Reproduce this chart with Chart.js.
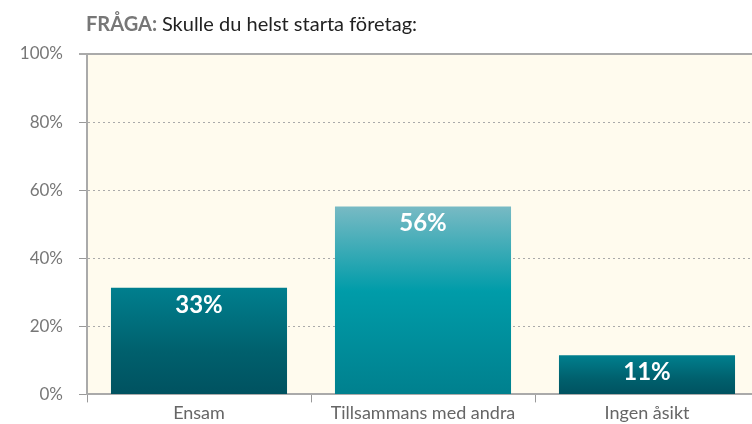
<!DOCTYPE html>
<html>
<head>
<meta charset="utf-8">
<script src="https://cdn.jsdelivr.net/npm/chart.js@4/dist/chart.umd.min.js"></script>
<style>
  body { margin: 0; overflow: hidden; background: #fff; }
  #wrap { width: 760px; height: 424px; }
</style>
</head>
<body>
<div id="wrap"><canvas id="svar" width="760" height="424"></canvas></div>
<script>
const categories = ['Ensam', 'Tillsammans med andra', 'Ingen åsikt'];
const values = [31.3, 55.2, 11.5];
const valueLabels = ['33%', '56%', '11%'];
const yTicks = [0, 20, 40, 60, 80, 100];

const FONT = 'Lato, "Open Sans", sans-serif';

// colour stops per bar (top -> bottom)
const barStops = [
  [[0, '#007f8e'], [0.6, '#00606d'], [1, '#005260']],
  [[0, '#78bac4'], [0.45, '#009ca9'], [1, '#00808e']],
  [[0, '#007f8e'], [0.6, '#00606d'], [1, '#005260']]
];

function barGradient(context) {
  const chart = context.chart;
  const area = chart.chartArea;
  if (!area) return barStops[context.dataIndex][0][1];
  const y = chart.scales.y;
  const top = y.getPixelForValue(values[context.dataIndex]);
  const g = chart.ctx.createLinearGradient(0, top, 0, y.getPixelForValue(0));
  barStops[context.dataIndex].forEach(s => g.addColorStop(s[0], s[1]));
  return g;
}

const decor = {
  id: 'decor',
  beforeDraw(chart) {
    const { ctx, chartArea: a } = chart;
    ctx.save();
    ctx.fillStyle = '#fffbee';
    ctx.fillRect(a.left, a.top, a.right - a.left, a.bottom - a.top);
    ctx.restore();
  },
  afterDatasetsDraw(chart) {
    const { ctx, chartArea: a } = chart;
    ctx.save();
    // top 100% line
    ctx.strokeStyle = '#aaa';
    ctx.lineWidth = 2;
    ctx.beginPath();
    ctx.moveTo(a.left - 8, a.top);
    ctx.lineTo(a.right, a.top);
    ctx.stroke();
    // value labels
    ctx.fillStyle = '#fff';
    ctx.font = 'bold 24px ' + FONT;
    ctx.textAlign = 'center';
    ctx.textBaseline = 'middle';
    chart.getDatasetMeta(0).data.forEach((el, i) => {
      ctx.fillText(valueLabels[i], el.x, el.y + 17);
    });
    // title
    ctx.textAlign = 'left';
    ctx.textBaseline = 'alphabetic';
    ctx.font = 'bold 20px ' + FONT;
    ctx.fillStyle = '#777';
    const lead = 'FRÅGA:';
    ctx.fillText(lead, 86, 31);
    const w = ctx.measureText(lead + ' ').width;
    ctx.font = '20px ' + FONT;
    ctx.fillStyle = '#222';
    ctx.fillText('Skulle du helst starta företag:', 86 + w, 31);
    ctx.restore();
  }
};

new Chart(document.getElementById('svar'), {
  type: 'bar',
  data: {
    labels: categories,
    datasets: [{
      data: values,
      backgroundColor: barGradient,
      barPercentage: 0.786,
      categoryPercentage: 1
    }]
  },
  options: {
    responsive: false,
    animation: false,
    layout: { padding: { top: 54, right: 1, left: 0, bottom: 0 } },
    plugins: {
      legend: { display: false },
      tooltip: { enabled: false }
    },
    scales: {
      x: {
        grid: { drawOnChartArea: false, tickLength: 8, color: '#999', lineWidth: 1 },
        border: { color: '#aaa', width: 2 },
        ticks: { color: '#666', font: { family: FONT, size: 18 }, padding: 0 }
      },
      y: {
        min: 0,
        max: 100,
        afterFit(scale) { scale.width = 87; },
        afterBuildTicks(scale) { scale.ticks = yTicks.map(v => ({ value: v })); },
        grid: {
          color: c => (c.tick && (c.tick.value === 0 || c.tick.value === 100)) ? 'rgba(0,0,0,0)' : '#aaa',
          tickColor: '#999',
          tickLength: 8,
          lineWidth: 1
        },
        border: { color: '#aaa', width: 2, dash: [2, 3] },
        ticks: {
          color: '#777',
          font: { family: FONT, size: 17 },
          padding: 16,
          callback: v => v + '%'
        }
      }
    }
  },
  plugins: [decor]
});
</script>
</body>
</html>
